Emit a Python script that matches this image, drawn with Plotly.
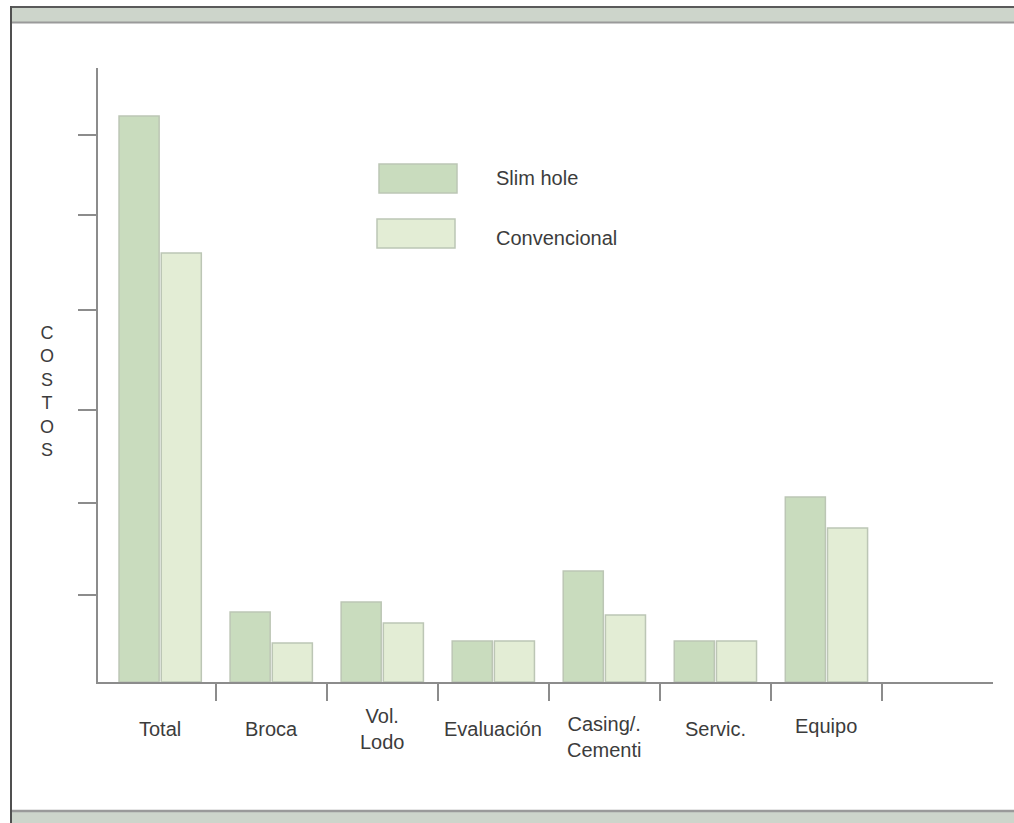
import plotly.graph_objects as go

# ---- data (arbitrary "cost" units) ----
categories = ["Total", "Broca", "Vol.<br>Lodo", "Evaluación", "Casing/.<br>Cementi", "Servic.", "Equipo"]
series_names = ["Slim hole", "Convencional"]
slim_hole = [566, 70, 80, 41, 111, 41, 185]
convencional = [429, 39, 59, 41, 67, 41, 154]
y_tick_values = [87, 179, 272, 372, 467, 547]
y_title = "COSTOS"

W, H = 1014, 823
colors = ["#c9dcbe", "#e3edd5"]
edge = "#bcc6b5"
text_color = "#3c3c3c"
font_family = "Liberation Sans, Arial, sans-serif"

def px(x):
    return x / W

def py(y):
    return 1 - y / H

idx = list(range(len(categories)))

fig = go.Figure()
for name, vals, col in zip(series_names, [slim_hole, convencional], colors):
    fig.add_trace(go.Bar(
        x=idx, y=vals, name=name,
        marker=dict(color=col, line=dict(color=edge, width=1.5)),
        showlegend=False, hoverinfo="x+y+name",
    ))

shapes = []
# outer frame: top band, bottom band, left border
shapes.append(dict(type="rect", xref="paper", yref="paper", x0=px(11), x1=1, y0=py(23), y1=py(7),
                   fillcolor="#cdd5cb", line=dict(width=0), layer="below"))
shapes.append(dict(type="line", xref="paper", yref="paper", x0=px(11), x1=1, y0=py(7), y1=py(7),
                   line=dict(color="#5a5a5a", width=2)))
shapes.append(dict(type="line", xref="paper", yref="paper", x0=px(11), x1=1, y0=py(22.5), y1=py(22.5),
                   line=dict(color="#9a9a9a", width=2)))
shapes.append(dict(type="rect", xref="paper", yref="paper", x0=px(11), x1=1, y0=0, y1=py(811),
                   fillcolor="#cdd5cb", line=dict(width=0), layer="below"))
shapes.append(dict(type="line", xref="paper", yref="paper", x0=px(11), x1=1, y0=py(811), y1=py(811),
                   line=dict(color="#9a9a9a", width=2.5)))
shapes.append(dict(type="line", xref="paper", yref="paper", x0=px(11), x1=px(11), y0=0, y1=py(6),
                   line=dict(color="#505050", width=2)))

# legend boxes
legend_boxes = [(379, 457, 164, 193), (377, 455, 219, 248)]
legend_text_y = [178, 238]
annotations = []
for (x0, x1, y0, y1), col, name, ty in zip(legend_boxes, colors, series_names, legend_text_y):
    shapes.append(dict(type="rect", xref="paper", yref="paper", x0=px(x0), x1=px(x1), y0=py(y1), y1=py(y0),
                       fillcolor=col, line=dict(color=edge, width=1.5)))
    annotations.append(dict(xref="paper", yref="paper", x=px(494), y=py(ty), text=name, showarrow=False,
                            xanchor="left", yanchor="middle",
                            font=dict(size=20, color=text_color, family=font_family)))

# category labels (two-line "Casing" label sits slightly lower in the original)
label_shift = {"Casing/.<br>Cementi": -8, "Equipo": 3}
for i, lab in zip(idx, categories):
    annotations.append(dict(xref="x", yref="paper", x=i, y=py(729), text=lab, showarrow=False,
                            xanchor="center", yanchor="middle", align="center",
                            yshift=label_shift.get(lab, 0),
                            font=dict(size=20, color=text_color, family=font_family)))

# vertical y-axis title
annotations.append(dict(xref="paper", yref="paper", x=px(47), y=py(391), text="<br>".join(list(y_title)),
                        showarrow=False, xanchor="center", yanchor="middle", align="center",
                        font=dict(size=18, color=text_color, family=font_family)))

fig.update_layout(
    width=W, height=H,
    margin=dict(l=0, r=0, t=0, b=0),
    paper_bgcolor="white", plot_bgcolor="white",
    barmode="group", bargap=0.24, bargroupgap=0.05,
    shapes=shapes, annotations=annotations,
    xaxis=dict(domain=[px(98), px(993)], range=[-0.56, 7.5],
               showline=True, linecolor="#8c8c8c", linewidth=2,
               showgrid=False, zeroline=False,
               tickmode="array", tickvals=[i + 0.5 for i in idx],
               ticks="outside", ticklen=17, tickwidth=2, tickcolor="#8c8c8c",
               showticklabels=False),
    yaxis=dict(domain=[py(682), py(68)], range=[0, 614],
               showline=True, linecolor="#8c8c8c", linewidth=2,
               showgrid=False, zeroline=False,
               tickmode="array", tickvals=y_tick_values,
               ticks="outside", ticklen=18, tickwidth=2, tickcolor="#8c8c8c",
               showticklabels=False),
    font=dict(family=font_family, color=text_color),
)

# remove the browser's default 8px body margin so the figure fills the window exactly
fig.write_html("out.html",
               config={"displayModeBar": False},
               post_script="document.body.style.margin='0';document.body.style.overflow='hidden';")
